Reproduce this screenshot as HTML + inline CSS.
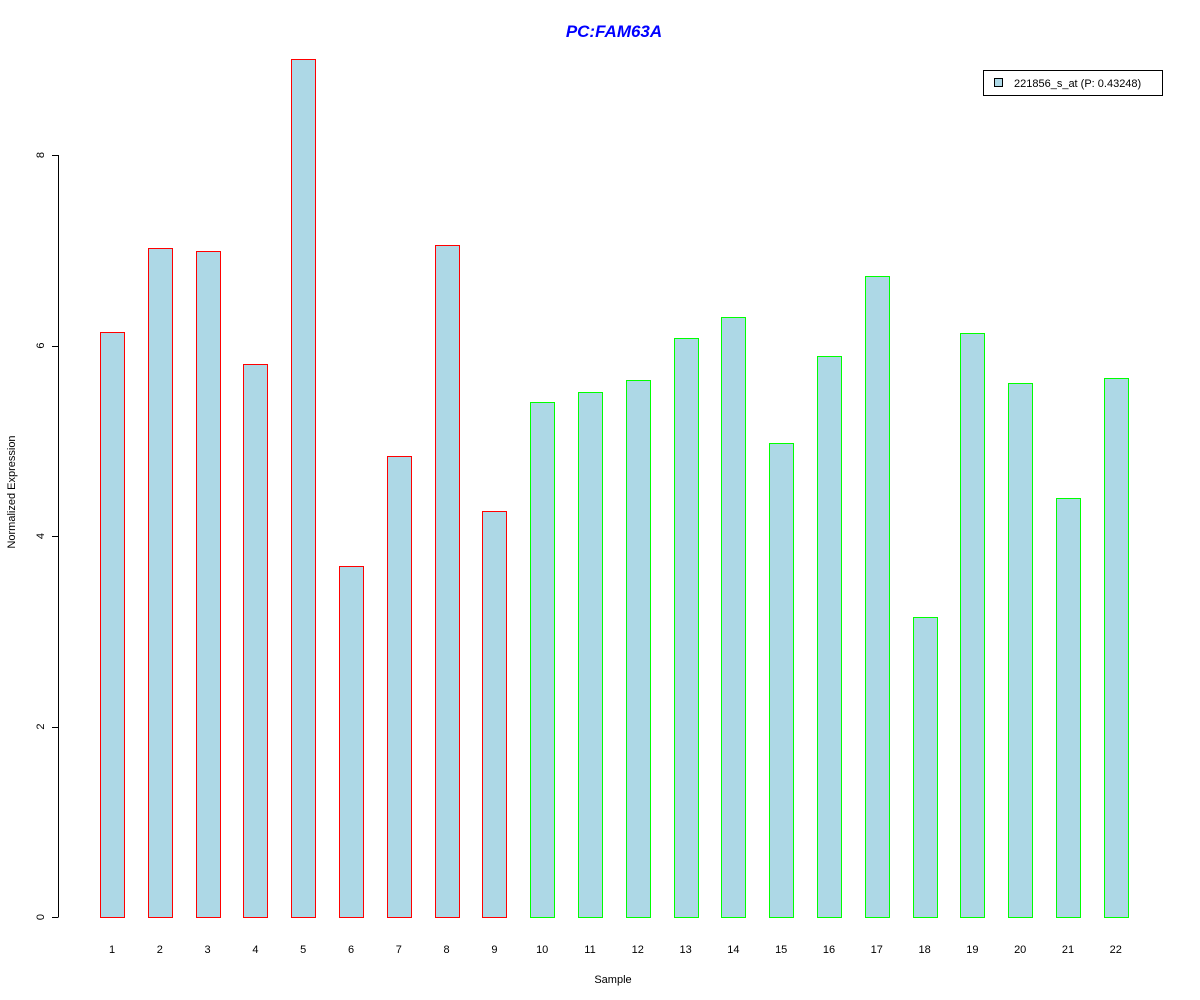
<!DOCTYPE html>
<html><head><meta charset="utf-8"><style>
body{margin:0;background:#fff}
svg{display:block;font-family:"Liberation Sans",Arial,sans-serif}
</style></head><body>
<svg id="chart" width="1200" height="1000">
<text x="614" y="37" text-anchor="middle" font-size="17" font-weight="bold" font-style="italic" fill="#0000ff">PC:FAM63A</text>
<g>
<rect x="983.5" y="70.5" width="179" height="25" fill="#fff" stroke="#000"/>
<rect x="994.5" y="78.5" width="8" height="8" fill="#add8e6" stroke="#000"/>
<text x="1014" y="87" font-size="11">221856_s_at (P: 0.43248)</text>
</g>
<text x="613" y="983" text-anchor="middle" font-size="11">Sample</text>
<text transform="translate(15,492) rotate(-90)" text-anchor="middle" font-size="11">Normalized Expression</text>
<g id="yaxis"></g>
<g id="bars"></g>
<g id="xlabels"></g>
</svg>
<script>
const categories=["1","2","3","4","5","6","7","8","9","10","11","12","13","14","15","16","17","18","19","20","21","22"];
const values=[6.14,7.02,6.99,5.81,9.01,3.69,4.84,7.06,4.26,5.41,5.51,5.64,6.08,6.30,4.98,5.89,6.73,3.15,6.13,5.61,4.40,5.66];
const groups=["a","a","a","a","a","a","a","a","a","b","b","b","b","b","b","b","b","b","b","b","b","b"];
const yTicks=[0,2,4,6,8];
const NS="http://www.w3.org/2000/svg";
const y=v=>917-v*95.25;
const x=i=>112+i*47.8;
function mk(t,a,p){const e=document.createElementNS(NS,t);for(const k in a)e.setAttribute(k,a[k]);p.appendChild(e);return e;}
const ya=document.getElementById('yaxis');
const ax=mk('line',{x1:58.5,x2:58.5,y1:y(yTicks[yTicks.length-1]),y2:y(yTicks[0]),stroke:'#000'},ya);


yTicks.forEach(t=>{
 const l=mk('line',{x1:52,x2:58.5,y1:Math.round(y(t))+.5,y2:Math.round(y(t))+.5,stroke:'#000'},ya);
 
 
 const tx=mk('text',{transform:`translate(44,${y(t)}) rotate(-90)`,'text-anchor':'middle','font-size':11},ya);
 tx.textContent=t;
 
 
});
const bg=document.getElementById('bars'),xl=document.getElementById('xlabels');
values.forEach((v,i)=>{
 const r=mk('rect',{x:Math.round(x(i)-12)+.5,y:Math.round(y(v))+.5,width:24,height:Math.round(y(0))-Math.round(y(v)),fill:'#add8e6',stroke:groups[i]==='a'?'#ff0000':'#00ff00'},bg);
 
 
 const t=mk('text',{x:x(i),y:953,'text-anchor':'middle','font-size':11},xl);
 t.textContent=categories[i];
 
 
});
</script>
</body></html>
